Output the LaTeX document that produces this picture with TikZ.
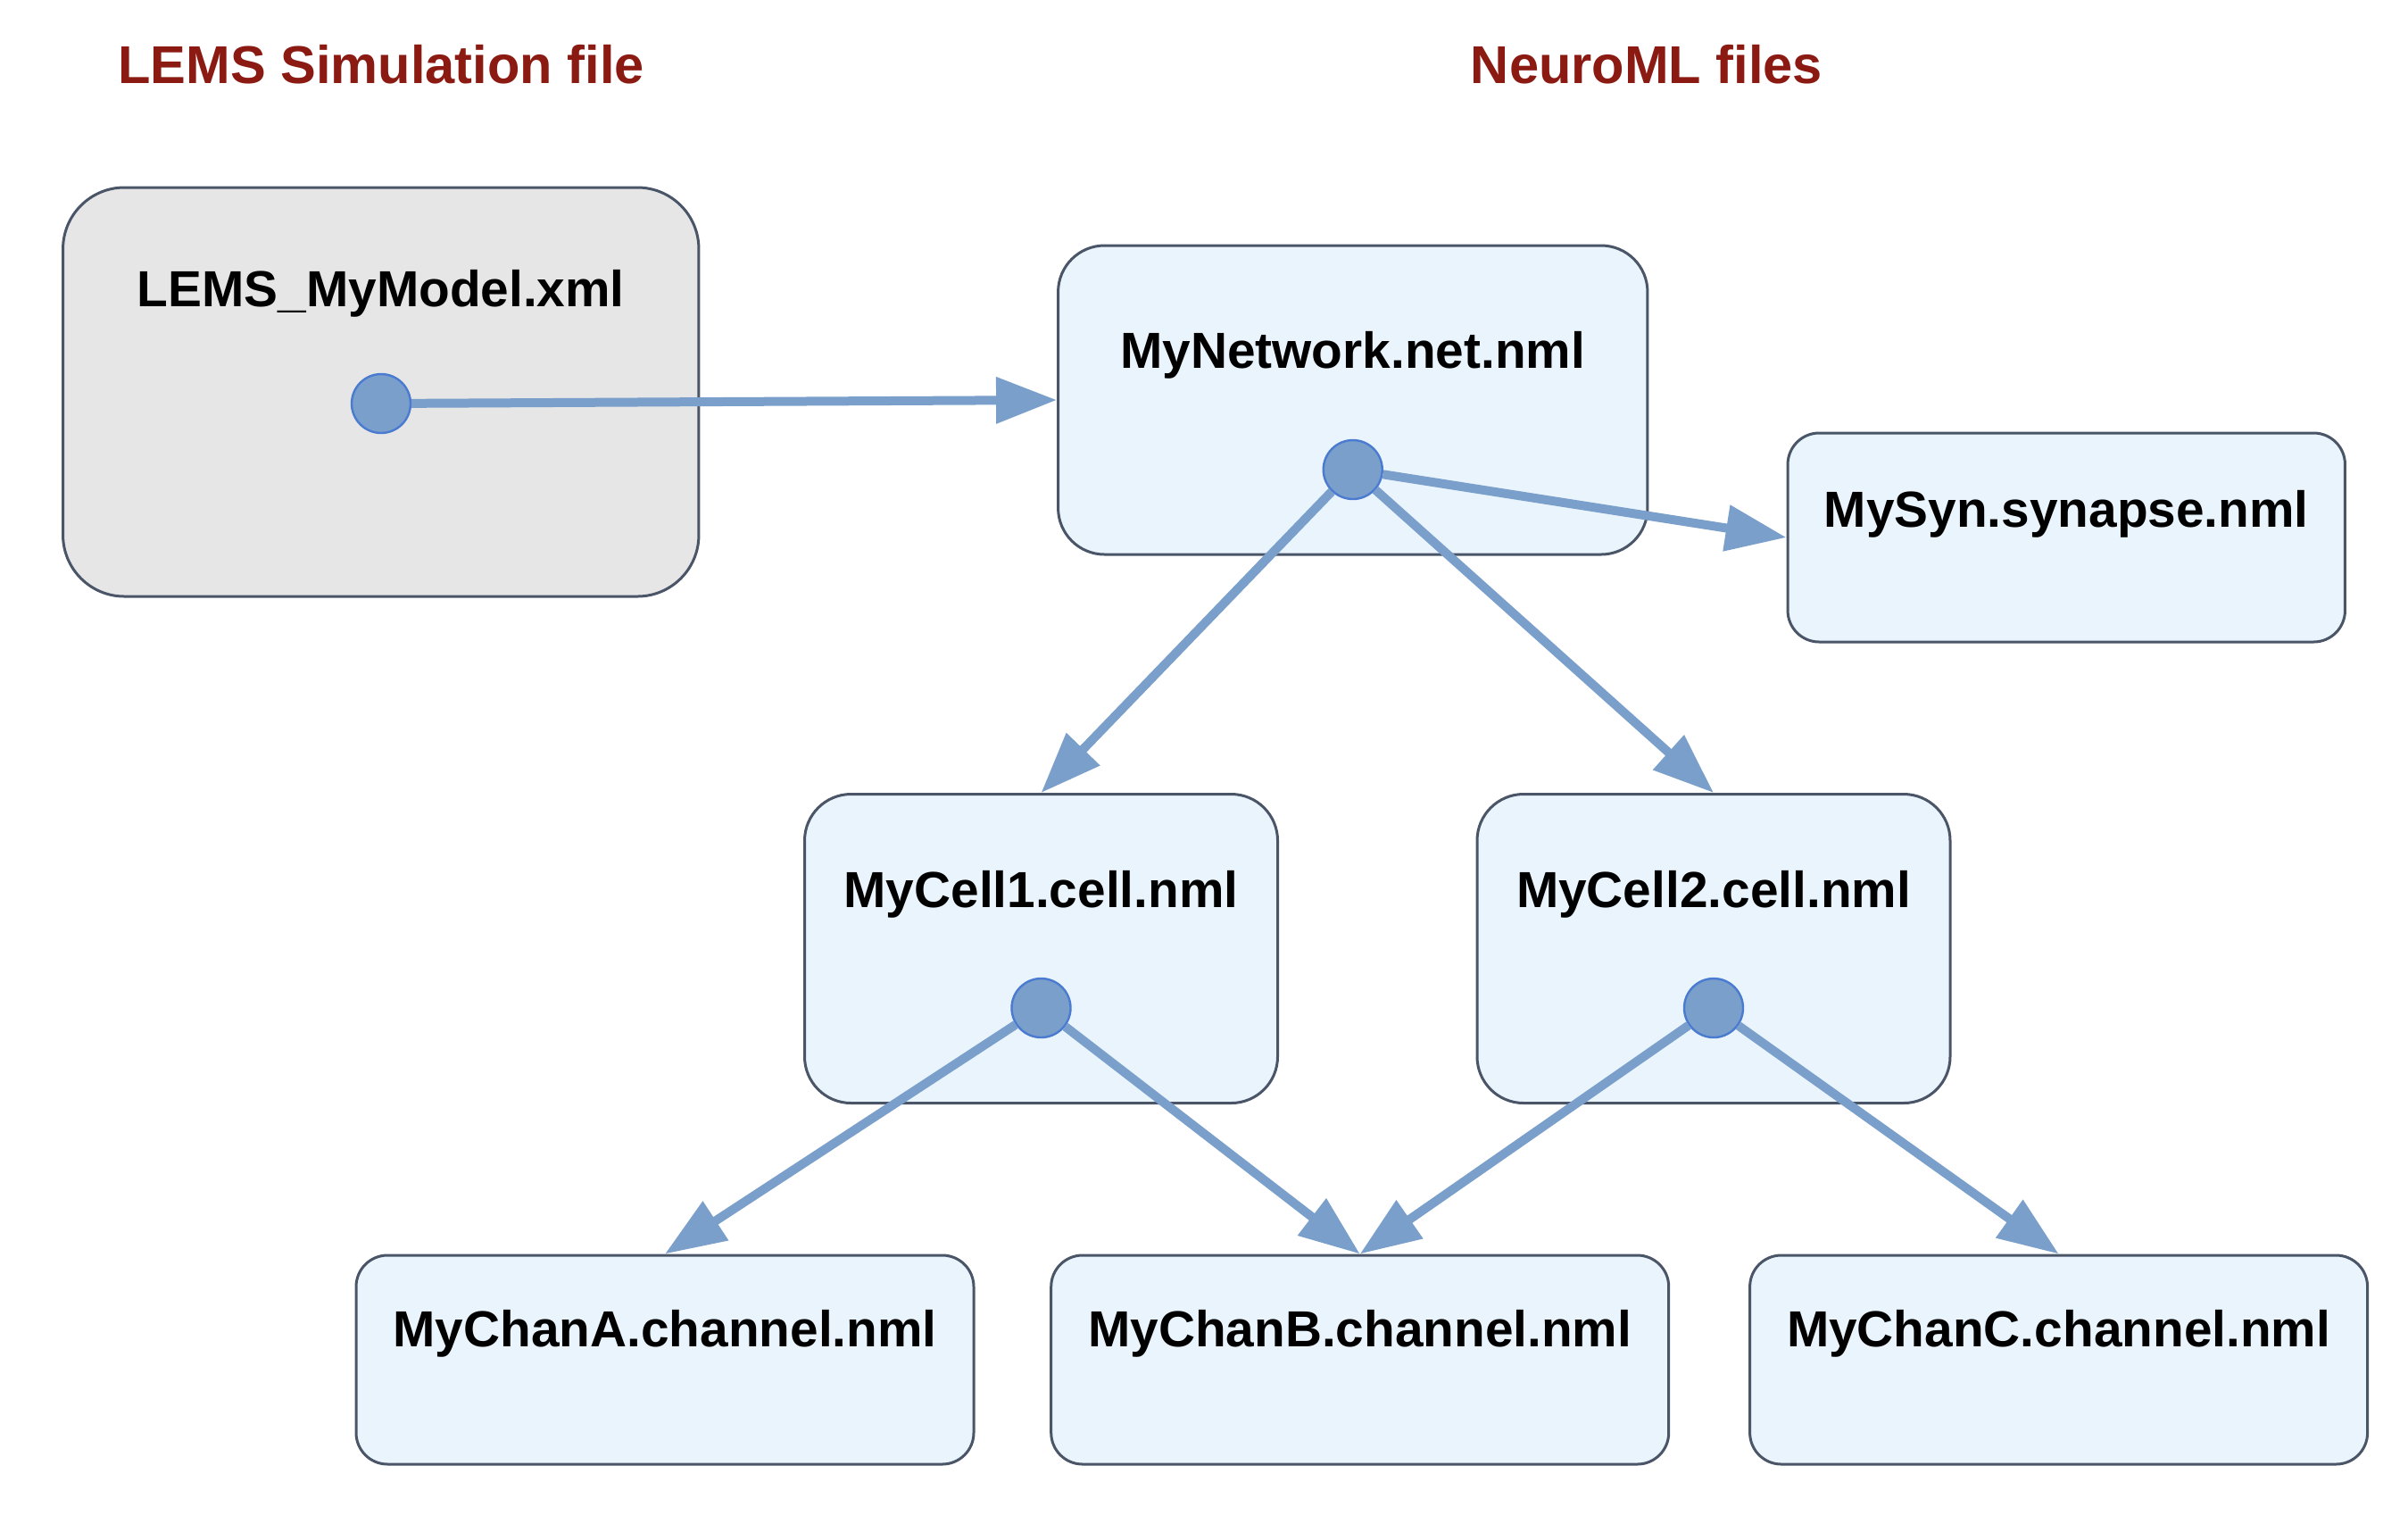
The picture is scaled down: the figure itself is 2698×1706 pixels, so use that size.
\documentclass[tikz,border=0pt]{standalone}
\usepackage{fontspec}
\setmainfont{Liberation Sans}
\usetikzlibrary{arrows.meta}
\definecolor{titlered}{RGB}{139,26,18}
\definecolor{edgeblue}{RGB}{122,159,203}
\definecolor{dotborder}{RGB}{74,123,208}
\definecolor{boxborder}{RGB}{74,85,104}
\definecolor{boxfill}{RGB}{234,244,253}
\definecolor{greyfill}{RGB}{230,230,230}
\tikzset{
  filebox/.style={draw=boxborder, line width=0.75pt, fill=boxfill, inner sep=0pt},
  dotnode/.style={circle, draw=dotborder, line width=0.6pt, fill=edgeblue, minimum size=16.5pt, inner sep=0pt},
  flabel/.style={font=\bfseries\fontsize{14.2}{16}\selectfont, anchor=base, inner sep=0pt},
  ftitle/.style={font=\bfseries\fontsize{14.9}{17}\selectfont, text=titlered, anchor=base, inner sep=0pt},
  link/.style={draw=edgeblue, line width=2.5pt, -{Triangle[length=17pt,width=12.5pt]}}
}
\begin{document}
\begin{tikzpicture}[x=0.25pt,y=-0.25pt]
\useasboundingbox (0,0) rectangle (2698,1706);
% titles
\node[ftitle] (t1) at (427,93) {LEMS Simulation file};
\node[ftitle] (t2) at (1845,93) {NeuroML files};
% boxes
\node[filebox, fill=greyfill, minimum width=178.1pt, minimum height=114.5pt, rounded corners=17.2pt] (lems) at (426.75,439) {};
\node[filebox, minimum width=165.1pt, minimum height=86.5pt, rounded corners=13pt] (net) at (1515.75,448) {};
\node[filebox, minimum width=156.1pt, minimum height=58.5pt, rounded corners=8.8pt] (syn) at (2315.25,602) {};
\node[filebox, minimum width=132.5pt, minimum height=86.5pt, rounded corners=13pt] (cell1) at (1166.5,1062.5) {};
\node[filebox, minimum width=132.5pt, minimum height=86.5pt, rounded corners=13pt] (cell2) at (1920,1062.5) {};
\node[filebox, minimum width=173pt, minimum height=58.5pt, rounded corners=8.8pt] (chanA) at (745,1523) {};
\node[filebox, minimum width=173pt, minimum height=58.5pt, rounded corners=8.8pt] (chanB) at (1523.7,1523) {};
\node[filebox, minimum width=173pt, minimum height=58.5pt, rounded corners=8.8pt] (chanC) at (2306.6,1523) {};
% labels
\node[flabel] (llems) at (426.75,343) {LEMS\_MyModel.xml};
\node[flabel] (lnet) at (1515.75,412) {MyNetwork.net.nml};
\node[flabel] (lsyn) at (2315.25,590) {MySyn.synapse.nml};
\node[flabel] (lcell1) at (1166.5,1016) {MyCell1.cell.nml};
\node[flabel] (lcell2) at (1920,1016) {MyCell2.cell.nml};
\node[flabel] (lchanA) at (745,1508) {MyChanA.channel.nml};
\node[flabel] (lchanB) at (1523.7,1508) {MyChanB.channel.nml};
\node[flabel] (lchanC) at (2306.6,1508) {MyChanC.channel.nml};
% dots
\node[dotnode] (dlems) at (427,452) {};
\node[dotnode] (dnet) at (1515.75,526) {};
\node[dotnode] (dcell1) at (1166.5,1129) {};
\node[dotnode] (dcell2) at (1920,1129) {};
% connectors
\draw[link] (dlems) -- (net.west);
\draw[link] (dnet) -- (syn.west);
\draw[link] (dnet) -- (cell1.north);
\draw[link] (dnet) -- (cell2.north);
\draw[link] (dcell1) -- (chanA.north);
\draw[link] (dcell1) -- (chanB.north);
\draw[link] (dcell2) -- (chanB.north);
\draw[link] (dcell2) -- (chanC.north);
\end{tikzpicture}
\end{document}
